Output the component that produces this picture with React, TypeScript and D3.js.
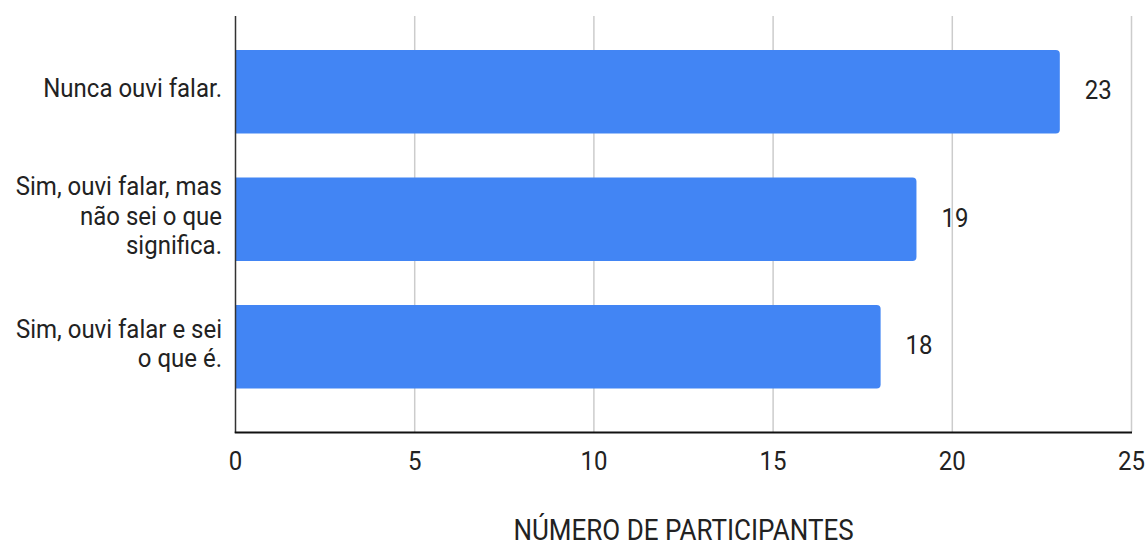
import React from "react";
import * as d3 from "d3";

const categories = [
  ["Nunca ouvi falar."],
  ["Sim, ouvi falar, mas", "não sei o que", "significa."],
  ["Sim, ouvi falar e sei", "o que é."],
];
const values = [23, 19, 18];
const xTicks = [0, 5, 10, 15, 20, 25];
const axisTitle = "NÚMERO DE PARTICIPANTES";

const W = 1147;
const H = 544;
const SY = 1.1;

function T(props: { x: number; y: number; size: number; anchor?: string; children: React.ReactNode }) {
  return (
    <g transform={`translate(${props.x},${props.y}) scale(1,${SY})`}>
      <text x={0} y={0} fontSize={props.size} textAnchor={props.anchor || "start"} fill="#222">
        {props.children}
      </text>
    </g>
  );
}

export default function App() {
  const x = d3.scaleLinear().domain([0, 25]).range([235.5, 1131.5]);
  const keys = categories.map((_, i) => String(i));
  const y = d3
    .scaleBand<string>()
    .domain(keys)
    .range([16, 432])
    .paddingInner(0.345)
    .paddingOuter(0.304)
    .align(0.44);
  const bw = y.bandwidth();
  const r = 4;
  const font = "Roboto, 'Noto Sans', sans-serif";
  const lh = 29.5;

  const barPath = (v: number, i: number) => {
    const x0 = x(0);
    const x1 = x(v);
    const y0 = y(keys[i])!;
    const y1 = y0 + bw;
    const p = d3.path();
    p.moveTo(x0, y0);
    p.lineTo(x1 - r, y0);
    p.arcTo(x1, y0, x1, y0 + r, r);
    p.lineTo(x1, y1 - r);
    p.arcTo(x1, y1, x1 - r, y1, r);
    p.lineTo(x0, y1);
    p.closePath();
    return p.toString();
  };

  return (
    <svg
      width={W}
      height={H}
      style={{ position: "absolute", left: 0, top: 0, background: "#fff" }}
      fontFamily={font}
    >
      <rect width={W} height={H} fill="#fff" />
      {xTicks.slice(1).map((t) => (
        <line key={t} x1={x(t)} x2={x(t)} y1={16} y2={432} stroke="#cccccc" strokeWidth={1.5} />
      ))}
      {values.map((v, i) => (
        <path key={i} d={barPath(v, i)} fill="#4285f4" />
      ))}
      <line x1={x(0)} x2={x(0)} y1={16} y2={433} stroke="#333" strokeWidth={1.5} />
      <line x1={x(0) - 0.75} x2={x(25) + 0.5} y1={432.5} y2={432.5} stroke="#111" strokeWidth={2} />
      {categories.map((lines, i) => {
        const c = y(keys[i])! + bw / 2;
        return (
          <g key={i}>
            {lines.map((l, j) => (
              <T key={j} x={222} y={c + 5.5 + (j - (lines.length - 1) / 2) * lh} size={24} anchor="end">
                {l}
              </T>
            ))}
          </g>
        );
      })}
      {values.map((v, i) => (
        <T key={i} x={x(v) + 25} y={y(keys[i])! + bw / 2 + 7.5} size={24}>
          {v}
        </T>
      ))}
      {xTicks.map((t) => (
        <T key={t} x={x(t)} y={469.5} size={24} anchor="middle">
          {t}
        </T>
      ))}
      <T x={(x(0) + x(25)) / 2} y={539.5} size={26} anchor="middle">
        {axisTitle}
      </T>
    </svg>
  );
}
